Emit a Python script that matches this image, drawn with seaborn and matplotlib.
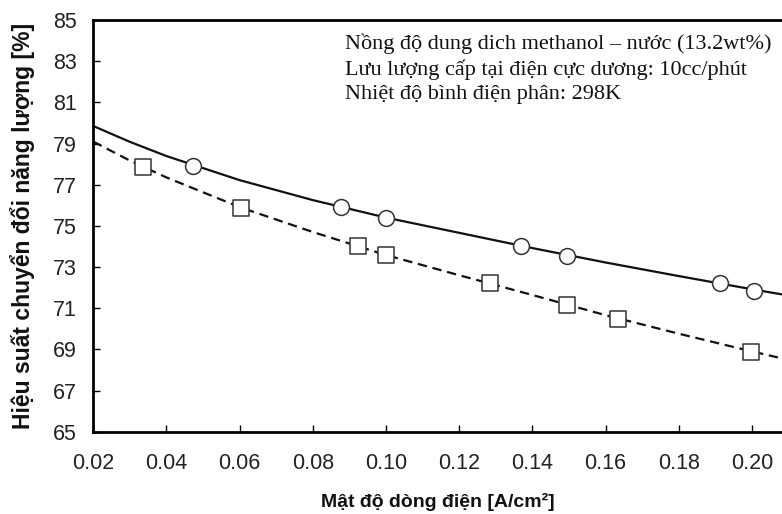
import numpy as np
import pandas as pd
import matplotlib
matplotlib.use("Agg")
import matplotlib.pyplot as plt
import seaborn as sns

# ---- data ----
circle_x = [0.0473, 0.0877, 0.0999, 0.1370, 0.1495, 0.1912, 0.2005]
circle_y = [77.92, 75.90, 75.40, 74.02, 73.54, 72.21, 71.85]
square_x = [0.0337, 0.0604, 0.0922, 0.0999, 0.1284, 0.1495, 0.1634, 0.1997]
square_y = [77.87, 75.88, 74.04, 73.58, 72.21, 71.15, 70.46, 68.89]
curve_x = [0.02, 0.03, 0.04, 0.06, 0.08, 0.10, 0.12, 0.14, 0.16, 0.18, 0.20, 0.2082]
solid_y = [79.85, 79.08, 78.39, 77.22, 76.25, 75.40, 74.66, 73.92, 73.22, 72.56, 71.92, 71.67]
dashed_y = [79.09, 78.17, 77.35, 75.91, 74.70, 73.58, 72.60, 71.64, 70.66, 69.76, 68.90, 68.56]
x_ticks = [0.02, 0.04, 0.06, 0.08, 0.10, 0.12, 0.14, 0.16, 0.18, 0.20]
y_ticks = [65, 67, 69, 71, 73, 75, 77, 79, 81, 83, 85]
notes = ["Nồng độ dung dich methanol – nước (13.2wt%)",
         "Lưu lượng cấp tại điện cực dương: 10cc/phút",
         "Nhiệt độ bình điện phân: 298K"]
x_label = "Mật độ dòng điện [A/cm²]"
y_label = "Hiệu suất chuyển đổi năng lượng [%]"

sns.set_theme(style="white")
plt.rcParams["font.family"] = ["Liberation Sans", "DejaVu Sans"]

fig = plt.figure(figsize=(7.82, 5.14), dpi=100)
ax = fig.add_axes([93.3 / 782, 1 - 431.7 / 514, 1 - 93.3 / 782, (431.7 - 20) / 514])

curves = pd.DataFrame({"x": curve_x, "solid": solid_y, "dashed": dashed_y})
sns.lineplot(data=curves, x="x", y="solid", ax=ax, color="#111111", lw=1.6)
sns.lineplot(data=curves, x="x", y="dashed", ax=ax, color="#111111", lw=1.6,
             dashes=False)
ax.lines[-1].set_linestyle((0, (4.2, 2.6)))

circ = pd.DataFrame({"x": circle_x, "y": circle_y})
sq = pd.DataFrame({"x": square_x, "y": square_y})
sns.scatterplot(data=circ, x="x", y="y", ax=ax, marker="o", s=130,
                facecolor="white", edgecolor="#333333", linewidth=1.1, zorder=5)
sns.scatterplot(data=sq, x="x", y="y", ax=ax, marker="s", s=140,
                facecolor="white", edgecolor="#333333", linewidth=1.1, zorder=5)

ax.set_xlim(0.02, 0.2082)
ax.set_ylim(65, 85)
ax.set_xticks(x_ticks)
ax.set_xticklabels([f"{v:.2f}" for v in x_ticks])
ax.set_yticks(y_ticks)
ax.set_yticklabels([str(v) for v in y_ticks])

for side in ["left", "bottom", "top"]:
    ax.spines[side].set_visible(True)
    ax.spines[side].set_color("black")
    ax.spines[side].set_linewidth(2.0)
ax.spines["right"].set_visible(False)

ax.tick_params(axis="both", direction="in", length=5, width=1.0, color="black",
               labelsize=15.5, labelcolor="#222222")
ax.tick_params(axis="y", pad=12, left=True)
ax.tick_params(axis="x", pad=15, bottom=True)

ax.set_xlabel(x_label, fontsize=14, fontweight="bold", color="#111111", labelpad=14)
ax.set_ylabel(y_label, fontsize=16.5, fontweight="bold", color="#111111", labelpad=13)

for i, t in enumerate(notes):
    fig.text(345 / 782, 1 - (44 + i * 25.5) / 514, t, fontsize=16,
             family=["Liberation Serif", "DejaVu Serif"], color="#111111",
             va="center", ha="left")

fig.savefig("out.png", dpi=100)
